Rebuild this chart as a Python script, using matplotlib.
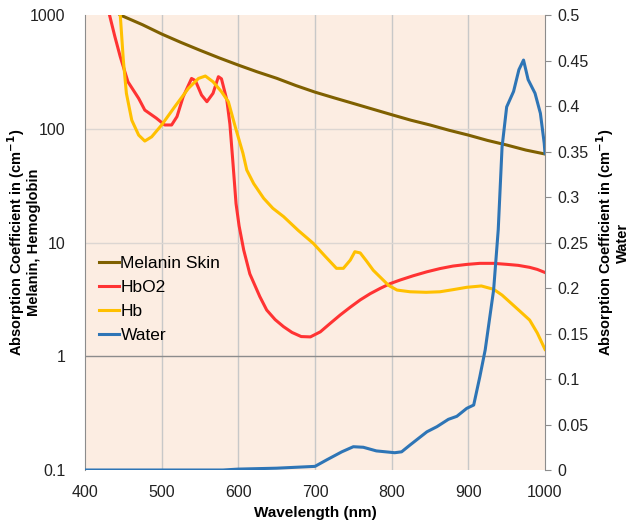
import numpy as np
import matplotlib
matplotlib.use("Agg")
from matplotlib import pyplot as plt

plt.rcParams['font.family'] = ['Liberation Sans', 'DejaVu Sans']

# melanin skin (cm-1), left log axis
mel_wl = [446, 475, 500, 525, 550, 575, 600, 625, 650, 675, 700, 725, 750, 775,
          800, 825, 850, 875, 900, 925, 950, 975, 1000]
mel_v = [1000, 822, 681, 575, 490, 420, 363, 316, 278, 240, 210, 187, 167, 149,
         133, 119, 108, 97, 88, 79, 72, 65, 60]

# HbO2 (cm-1)
hbo2_wl = [432, 439, 446, 456, 470, 478, 493, 504, 513, 520, 528, 539, 544, 552, 559,
           567, 574, 578, 585, 589, 593, 597, 601, 607, 615, 628, 637, 648, 659, 670,
           682, 694, 707, 720, 733, 746, 759, 772, 785, 798, 811, 828, 846, 863, 880,
           898, 915, 933, 950, 965, 980, 990, 1000]
hbo2_v = [1000, 645, 430, 259, 185, 146, 124, 108, 108, 128, 191, 277, 265, 198, 173,
          205, 287, 275, 179, 110, 50, 22, 14, 8.6, 5.3, 3.35, 2.55, 2.1, 1.82, 1.62,
          1.49, 1.48, 1.64, 1.95, 2.31, 2.7, 3.13, 3.55, 3.95, 4.35, 4.68, 5.1, 5.53,
          5.9, 6.21, 6.42, 6.56, 6.56, 6.43, 6.3, 6.05, 5.8, 5.45]

# Hb (cm-1)
hb_wl = [446, 450, 454, 461, 470, 478, 487, 500, 517, 535, 548, 557, 567, 578, 587,
         596, 606, 611, 620, 633, 645, 659, 678, 698, 713, 728, 737, 746, 752, 759,
         767, 776, 796, 807, 824, 845, 863, 880, 898, 917, 933, 944, 954, 967, 980,
         990, 1000]
hb_v = [1000, 402, 205, 119, 88, 78, 85, 108, 156, 227, 277, 291, 259, 212, 173,
        104, 61, 43.4, 33, 24.5, 20, 16.9, 12.8, 9.8, 7.6, 5.93, 5.93, 7.0, 8.3, 8.1,
        6.9, 5.7, 4.2, 3.82, 3.69, 3.65, 3.69, 3.85, 4.04, 4.15, 3.88, 3.45, 3.0,
        2.5, 2.08, 1.6, 1.15]

# water (cm-1), right linear axis
w_wl = [400, 500, 580, 600, 650, 700, 715, 735, 750, 763, 780, 804, 813, 824, 846, 859,
        874, 885, 898, 907, 915, 922, 928, 933, 939, 944, 950, 959, 966, 972, 978, 987,
        994, 999, 1000]
w_v = [0.0, 0.0, 0.0, 0.001, 0.002, 0.004, 0.011, 0.020, 0.0256, 0.025, 0.021, 0.019,
       0.020, 0.0275, 0.042, 0.0476, 0.0557, 0.059, 0.0678, 0.0714, 0.1025, 0.132,
       0.168, 0.198, 0.264, 0.355, 0.399, 0.416, 0.44, 0.4505, 0.429, 0.414, 0.392,
       0.359, 0.348]

c_mel = '#7f6000'
c_hbo2 = '#ff3333'
c_hb = '#ffc000'
c_water = '#2e75b6'

fig = plt.figure(figsize=(6.31, 5.22), dpi=100)
ax1 = fig.add_axes([0.1347, 0.0996, 0.729, 0.8716])
ax1.set_facecolor('#fcede2')
ax1.set_yscale('log')
ax1.set_xlim(400, 1000)
ax1.set_ylim(0.1, 1000)

for xv in [500, 600, 700, 800, 900]:
    ax1.axvline(xv, color='#c8c8c8', lw=1, zorder=0)
for yv in [10, 100]:
    ax1.axhline(yv, color='#dcd6d2', lw=1, zorder=0)
ax1.axhline(1, color='#8c8c8c', lw=1, zorder=0)

ax2 = ax1.twinx()
ax2.set_ylim(0, 0.5)

ax1.plot(mel_wl, mel_v, color=c_mel, lw=2.2, label='Melanin Skin')
ax1.plot(hbo2_wl, hbo2_v, color=c_hbo2, lw=2.2, label='HbO2')
ax1.plot(hb_wl, hb_v, color=c_hb, lw=2.2, label='Hb')
ax2.plot(w_wl, w_v, color=c_water, lw=2.2, label='Water')
ax1.plot([], [], color=c_water, lw=2.2, label='Water')

ax1.set_yticks([0.1, 1, 10, 100, 1000])
ax1.set_yticklabels(['0.1', '1', '10', '100', '1000'])
ax1.yaxis.set_minor_locator(matplotlib.ticker.NullLocator())
ax1.set_xticks([400, 500, 600, 700, 800, 900, 1000])
ax1.tick_params(axis='y', length=0, labelsize=11.5, colors='#222222', pad=14)
ax1.tick_params(axis='x', length=0, labelsize=11.5, colors='#222222', pad=11)
ax2.set_yticks(np.arange(0, 0.51, 0.05))
ax2.set_yticklabels(['0', '0.05', '0.1', '0.15', '0.2', '0.25', '0.3', '0.35', '0.4', '0.45', '0.5'])
ax2.tick_params(axis='y', length=4, color='#8c8c8c', labelsize=11.5, labelcolor='#222222', pad=5)

for a in (ax1, ax2):
    for s in a.spines.values():
        s.set_visible(False)
ax2.spines['right'].set_visible(True)
ax2.spines['right'].set_color('#8c8c8c')
ax1.spines['left'].set_visible(True)
ax1.spines['left'].set_color('#8c8c8c')

ax1.set_xlabel('Wavelength (nm)', fontsize=11, fontweight='bold', labelpad=4)
ax1.set_ylabel('Absorption Coefficient in (cm$^{\\mathbf{-1}}$)\nMelanin, Hemoglobin',
               fontsize=10.5, fontweight='bold', labelpad=-8, linespacing=1.0)
ax2.set_ylabel('Absorption Coefficient in (cm$^{\\mathbf{-1}}$)\nWater',
               fontsize=10.5, fontweight='bold', labelpad=4, rotation=90, linespacing=1.0)

leg = ax1.legend(loc='upper left', bbox_to_anchor=(0.03, 0.47), frameon=False,
                 fontsize=12.5, handlelength=1.15, handletextpad=0.1, labelspacing=0.5,
                 borderpad=0, borderaxespad=0)

fig.savefig('out.png', dpi=100)
